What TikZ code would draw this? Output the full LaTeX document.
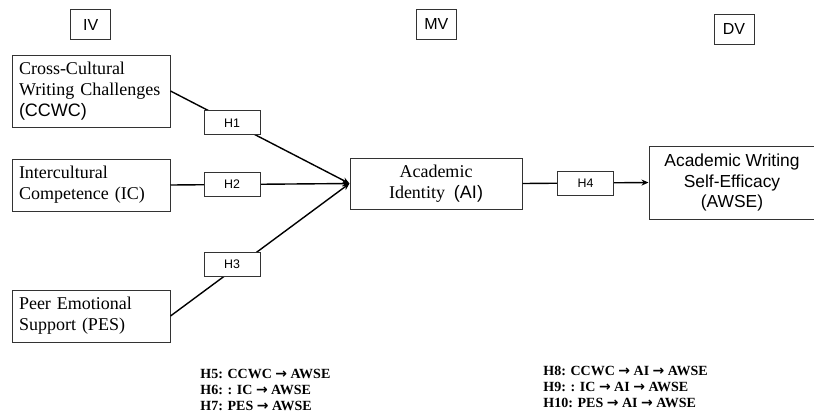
\documentclass[tikz,border=0pt]{standalone}
\usepackage{fontspec}
\setmainfont{Liberation Serif}
\setsansfont{Liberation Sans}
\newfontfamily\arrowfont{DejaVu Sans}
\usetikzlibrary{arrows.meta}
\newcommand{\hto}{{\arrowfont\bfseries →}}
\begin{document}
\begin{tikzpicture}[x=0.5pt,y=-0.5pt,
		box/.style={draw=black!80,line width=0.5pt,fill=white,inner sep=0pt},
		lbox/.style={box,inner xsep=3.5pt,text width=72pt,align=left,font=\fontsize{9}{10.5}\selectfont},
		hbox/.style={box,minimum width=28pt,minimum height=12pt,font=\sffamily\fontsize{6.2}{7}\selectfont},
		hdr/.style={box,minimum width=20pt,minimum height=15pt,font=\sffamily\fontsize{8}{9}\selectfont},
		link/.style={line width=0.7pt,-{Stealth[length=3.5pt,width=3pt]}},
		note/.style={inner sep=0pt,align=left,anchor=north west,font=\bfseries\fontsize{7}{8}\selectfont}]
	\useasboundingbox (0,0) rectangle (814,414);
	\clip (0,0) rectangle (814,414);
	\foreach \t/\x/\y in {IV/90.7/24.5,MV/436.3/24,DV/734/29}{
		\node[hdr] (\t) at (\x,\y) {\t};}
	\node[lbox,minimum height=36pt] (ccwc) at (91,91) {Cross-Cultural\\Writing Challenges\\{\sffamily(CCWC)}};
	\node[lbox,minimum height=26pt] (ic) at (91,185) {Intercultural\\Competence (IC)};
	\node[lbox,minimum height=26pt] (pes) at (91,316) {Peer Emotional\\Support (PES)};
	\node[box,minimum width=86pt,minimum height=25.5pt,align=center,font=\fontsize{9}{10.5}\selectfont] (ai) at (436,183.5) {Academic\\Identity~~{\sffamily(AI)}};
	\node[box,minimum width=83pt,minimum height=36.5pt,align=center,font=\sffamily\fontsize{8.7}{10.25}\selectfont] (awse) at (732,182.5) {Academic Writing\\Self-Efficacy\\(AWSE)};
	\draw[link] (ccwc.east) -- node[hbox,pos=.344] (h1) {H1} (ai.west);
	\draw[link] (ic.east) -- node[hbox,pos=.344] (h2) {H2} (ai.west);
	\draw[link] (pes.east) -- node[hbox,pos=.344,yshift=3pt] (h3) {H3} (ai.west);
	\draw[link] (ai.east) -- node[hbox,pos=.5] (h4) {H4} (awse.west);
	\node[note] (direct) at (200,369) {H5: CCWC \hto{} AWSE\\H6: : IC \hto{} AWSE\\H7: PES \hto{} AWSE};
	\node[note] (mediated) at (543,366) {H8: CCWC \hto{} AI \hto{} AWSE\\H9: : IC \hto{} AI \hto{} AWSE\\H10: PES \hto{} AI \hto{} AWSE};
\end{tikzpicture}
\end{document}
